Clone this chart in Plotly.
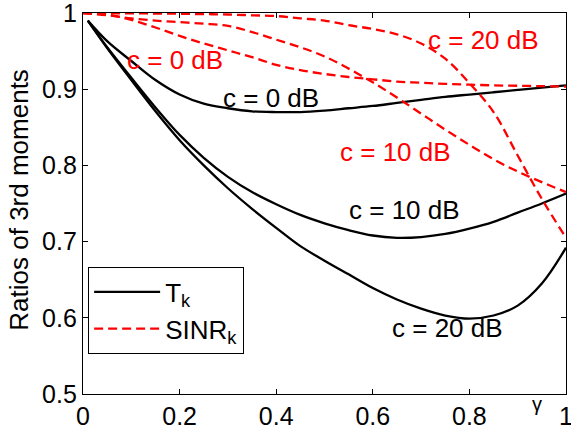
import plotly.graph_objects as go

# ---- data ----
x_t = [0.01, 0.05, 0.1, 0.15, 0.2, 0.25, 0.3, 0.35, 0.4, 0.45, 0.5, 0.55, 0.6, 0.65, 0.7, 0.75, 0.8, 0.85, 0.9, 0.95, 1.0]
t_c0 = [0.99, 0.963, 0.937, 0.912, 0.893, 0.881, 0.875, 0.871, 0.870, 0.870, 0.872, 0.875, 0.878, 0.882, 0.886, 0.890, 0.893, 0.896, 0.899, 0.902, 0.905]
t_c10 = [0.99, 0.955, 0.915, 0.876, 0.84, 0.81, 0.785, 0.765, 0.749, 0.735, 0.724, 0.715, 0.708, 0.705, 0.706, 0.71, 0.717, 0.726, 0.738, 0.75, 0.763]
t_c20 = [0.99, 0.954, 0.912, 0.871, 0.833, 0.8, 0.77, 0.743, 0.718, 0.694, 0.675, 0.657, 0.639, 0.624, 0.612, 0.603, 0.599, 0.603, 0.616, 0.645, 0.692]

x_s = [0.0, 0.05, 0.1, 0.15, 0.2, 0.25, 0.3, 0.35, 0.4, 0.45, 0.5, 0.55, 0.6, 0.65, 0.7, 0.75, 0.8, 0.85, 0.9, 0.95, 1.0]
s_c0 = [1.0, 0.998, 0.991, 0.981, 0.97, 0.96, 0.951, 0.942, 0.932, 0.925, 0.92, 0.916, 0.913, 0.91, 0.9085, 0.907, 0.906, 0.905, 0.9045, 0.904, 0.9035]
s_c10 = [1.0, 0.997, 0.993, 0.99, 0.988, 0.986, 0.983, 0.975, 0.965, 0.955, 0.943, 0.927, 0.909, 0.889, 0.868, 0.847, 0.827, 0.808, 0.792, 0.778, 0.765]
s_c20 = [1.0, 0.9998, 0.9995, 0.9993, 0.999, 0.9985, 0.998, 0.997, 0.996, 0.993, 0.99, 0.984, 0.979, 0.972, 0.96, 0.94, 0.908, 0.87, 0.813, 0.756, 0.705]

x_ticks = [0, 0.2, 0.4, 0.6, 0.8, 1]
x_ticktext = ["0", "0.2", "0.4", "0.6", "0.8", "1"]
y_ticks = [0.5, 0.6, 0.7, 0.8, 0.9, 1.0]
y_ticktext = ["0.5", "0.6", "0.7", "0.8", "0.9", "1"]

# label positions (data coords) and texts
labels_black = [("c = 0 dB", 0.39, 0.888), ("c = 10 dB", 0.665, 0.741), ("c = 20 dB", 0.755, 0.586)]
labels_red = [("c = 0 dB", 0.19, 0.938), ("c = 10 dB", 0.648, 0.817), ("c = 20 dB", 0.83, 0.964)]

FONT = "Liberation Sans, Arial, sans-serif"
BLACK = "#000000"
RED = "#ff0000"

fig = go.Figure()
fig.add_trace(go.Scatter(x=x_t, y=t_c0, mode="lines", line=dict(color=BLACK, width=2.3, shape="spline"),
                         name="T<sub>k</sub>", legendgroup="t"))
fig.add_trace(go.Scatter(x=x_t, y=t_c10, mode="lines", line=dict(color=BLACK, width=2.3, shape="spline"),
                         showlegend=False, legendgroup="t"))
fig.add_trace(go.Scatter(x=x_t, y=t_c20, mode="lines", line=dict(color=BLACK, width=2.3, shape="spline"),
                         showlegend=False, legendgroup="t"))
fig.add_trace(go.Scatter(x=x_s, y=s_c0, mode="lines", line=dict(color=RED, width=2.3, dash="9px,5px", shape="spline"),
                         name="SINR<sub>k</sub>", legendgroup="s"))
fig.add_trace(go.Scatter(x=x_s, y=s_c10, mode="lines", line=dict(color=RED, width=2.3, dash="9px,5px", shape="spline"),
                         showlegend=False, legendgroup="s"))
fig.add_trace(go.Scatter(x=x_s, y=s_c20, mode="lines", line=dict(color=RED, width=2.3, dash="9px,5px", shape="spline"),
                         showlegend=False, legendgroup="s"))

for txt, lx, ly in labels_black:
    fig.add_annotation(x=lx, y=ly, text=txt, showarrow=False, font=dict(family=FONT, size=26, color=BLACK))
for txt, lx, ly in labels_red:
    fig.add_annotation(x=lx, y=ly, text=txt, showarrow=False, font=dict(family=FONT, size=26, color=RED))

fig.add_annotation(x=0.94, y=-0.027, xref="x", yref="paper", xanchor="center", yanchor="middle",
                   text="γ", showarrow=False, font=dict(family=FONT, size=20, color=BLACK))
fig.add_annotation(x=-0.1325, y=0.51, xref="paper", yref="paper", xanchor="center", yanchor="middle",
                   text="Ratios of 3rd moments", textangle=-90, showarrow=False,
                   font=dict(family=FONT, size=26, color=BLACK))

axis_common = dict(showgrid=False, zeroline=False, showline=True, linecolor=BLACK, linewidth=1.3,
                   mirror="ticks", ticks="inside", ticklen=5, tickcolor=BLACK, tickwidth=1,
                   ticklabeloverflow="allow", automargin=False,
                   tickfont=dict(family=FONT, size=25, color=BLACK))
fig.update_xaxes(range=[0, 1], tickvals=x_ticks, ticktext=x_ticktext, **axis_common)
fig.update_yaxes(range=[0.5, 1], tickvals=y_ticks, ticktext=y_ticktext, **axis_common)

fig.update_layout(
    width=571, height=425,
    margin=dict(l=83, r=5, t=13, b=31, pad=0, autoexpand=False),
    paper_bgcolor="white", plot_bgcolor="white",
    font=dict(family=FONT, size=25, color=BLACK),
    legend=dict(x=0.01, y=0.333, xanchor="left", yanchor="top", bgcolor="white",
                bordercolor=BLACK, borderwidth=1.3, font=dict(family=FONT, size=26, color=BLACK),
                tracegroupgap=0, itemwidth=66),
    showlegend=True,
)

fig.write_html("out.html")
